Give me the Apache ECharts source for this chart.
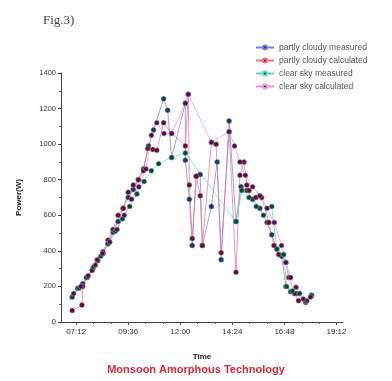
<!DOCTYPE html>
<html>
<head>
<meta charset="utf-8">
<script src="https://cdn.jsdelivr.net/npm/echarts@6/dist/echarts.min.js"></script>
<style>html,body{margin:0;padding:0;background:#fff;}#c{width:392px;height:381px;}</style>
</head>
<body>
<div id="c"></div>
<script>
const seriesNames = ['partly cloudy measured','partly cloudy calculated','clear sky measured','clear sky calculated'];
const xTickLabels = ['07:12','09:36','12:00','14:24','16:48','19:12'];
const yTicks = [0,200,400,600,800,1000,1200,1400];

const pcmTimes = ['07:01','07:16','07:30','07:44','07:58','08:12','08:26','08:40','08:54','09:08','09:22','09:36','09:50','10:04','10:18','10:32','10:46','11:14','11:25','11:36','12:14','12:14','12:25','12:33','12:44','12:55','13:01','13:26','13:42','13:53','14:15','14:34','14:48','15:04','15:20','15:40','16:00','16:13','16:27','16:40','16:52','17:05','17:22','17:47','18:03'];
const pcmValues = [140,190,215,255,300,345,385,440,505,565,640,700,745,800,860,990,1080,1255,1190,925,1230,910,690,430,820,830,430,650,900,350,1130,565,760,740,690,640,560,490,410,370,200,170,160,110,150];

const pccTimes = ['07:01','07:28','07:30','07:42','07:56','08:10','08:26','08:40','08:54','09:08','09:22','09:36','09:50','10:04','10:18','10:30','10:44','10:55','11:14','11:36','12:14','12:22','12:25','12:33','12:44','12:55','13:01','13:26','13:39','13:53','14:15','14:34','14:45','14:56','15:04','15:10','15:29','15:45','16:05','16:19','16:32','16:52','17:00','17:16','17:27','17:47','18:03'];
const pccValues = [65,95,200,250,290,350,395,460,520,600,640,730,770,800,850,975,970,965,1120,1060,990,1280,770,470,820,710,430,1010,1000,390,1070,280,825,900,770,740,700,700,560,430,380,335,250,160,120,115,145];

const csmTimes = ['07:01','07:20','07:40','08:00','08:20','08:40','09:00','09:20','09:40','10:00','10:20','10:40','11:00','11:36','12:14','14:34','14:50','15:10','15:30','15:50','16:13','16:27','16:46','16:54','17:10','17:30','17:50','18:03'];
const csmValues = [140,190,250,310,370,440,510,580,650,720,790,850,890,925,950,565,740,700,650,600,650,410,380,200,175,160,120,150];

const cscTimes = ['07:05','07:25','07:45','08:05','08:25','08:45','09:05','09:25','09:45','10:05','10:25','10:40','10:55','11:15','11:36','12:14','12:22','13:26','14:15','14:30','14:45','15:00','15:20','15:40','16:00','16:20','16:40','16:52','17:05','17:20','17:40','18:00'];
const cscValues = [160,200,260,320,385,450,520,600,690,760,860,1050,1120,1060,1060,1230,1280,1010,1070,990,900,825,760,710,640,560,430,335,250,195,130,140];

const toMin = s => { const p = s.split(':'); return (+p[0]) * 60 + (+p[1]); };
const fmt = v => { const h = Math.floor(v / 60), m = Math.round(v - h * 60); return (h < 10 ? '0' : '') + h + ':' + (m < 10 ? '0' : '') + m; };
const pair = (ts, vs) => ts.map((t, i) => [toMin(t), vs[i]]);

const majorX = xTickLabels.map(toMin);
const minorX = [];
for (let i = 0; i < majorX.length - 1; i++) { minorX.push(majorX[i] + 48, majorX[i] + 96); }

const lineColors = ['#7a7ae0', '#e8708a', '#5cd8b8', '#ec90e0'];
const markColors = ['#1e3a48', '#4a1828', '#1c3c2c', '#3a1a44'];
const dataSets = [pair(pcmTimes, pcmValues), pair(pccTimes, pccValues), pair(csmTimes, csmValues), pair(cscTimes, cscValues)];

const chart = echarts.init(document.getElementById('c'));
chart.setOption({
  animation: false,
  backgroundColor: '#fff',
  grid: { left: 61, right: 49, top: 73, bottom: 59, containLabel: false },
  legend: {
    orient: 'vertical', left: 250, top: 38, itemGap: 4, itemWidth: 18, itemHeight: 5,
    textStyle: { fontSize: 8.5, color: '#555', fontFamily: 'Liberation Sans' },
    data: seriesNames
  },
  xAxis: [{
    type: 'value', min: 390, max: 1170,
    name: 'Time', nameLocation: 'middle', nameGap: 31,
    nameTextStyle: { fontSize: 8, fontWeight: 'bold', color: '#222', fontFamily: 'Liberation Sans' },
    axisLine: { lineStyle: { color: '#444', width: 1 } },
    axisTick: { customValues: majorX, length: 3, lineStyle: { color: '#444' } },
    axisLabel: { customValues: majorX, formatter: fmt, fontSize: 8, color: '#333', margin: 6, fontFamily: 'Liberation Sans' },
    splitLine: { show: false }
  }, {
    type: 'value', min: 390, max: 1170, position: 'bottom',
    axisLine: { show: false },
    axisTick: { customValues: minorX, length: 2, lineStyle: { color: '#666' } },
    axisLabel: { show: false },
    splitLine: { show: false }
  }],
  yAxis: {
    type: 'value', min: 0, max: 1400, interval: 200,
    name: 'Power(W)', nameLocation: 'middle', nameGap: 38,
    nameTextStyle: { fontSize: 8, fontWeight: 'bold', color: '#222', fontFamily: 'Liberation Sans' },
    axisLine: { show: true, lineStyle: { color: '#444', width: 1 } },
    axisTick: { show: true, length: 3, lineStyle: { color: '#444' } },
    minorTick: { show: true, splitNumber: 2, length: 2, lineStyle: { color: '#666' } },
    axisLabel: { fontSize: 7.5, color: '#333', margin: 5, fontFamily: 'Liberation Sans', formatter: v => String(v) },
    splitLine: { show: false }
  },
  series: seriesNames.map((n, i) => ({
    name: n, type: 'line', xAxisIndex: 0, data: dataSets[i],
    symbol: 'circle', symbolSize: 5, showSymbol: true,
    lineStyle: { color: lineColors[i], width: 0.7 },
    itemStyle: { color: markColors[i], borderColor: lineColors[i], borderWidth: 0.5 }
  })),
  graphic: [
    { type: 'text', left: 43, top: 14, style: { text: 'Fig.3)', fontSize: 13, fill: '#444', fontFamily: 'Liberation Serif' } },
    { type: 'text', left: 'center', top: 364, style: { text: 'Monsoon Amorphous Technology', fontSize: 11, fontWeight: 'bold', fill: '#e0283c', fontFamily: 'Liberation Sans' } }
  ]
});
</script>
</body>
</html>
